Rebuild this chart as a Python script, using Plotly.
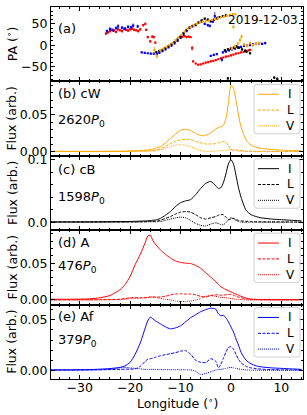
import plotly.graph_objects as go
from plotly.subplots import make_subplots

# ---------------- Panel (a): position angle ----------------
red_lon = [-24.8,-24.4,-24.0,-23.6,-23.2,-22.8,-22.4,-22.0,-21.6,-21.2,-20.8,-20.4,-20.0,-19.6,-19.2,-18.8,-18.4,-18.0,
           -17.4,-17.0,-16.8,-16.5,-16.0,-15.6,-15.3,-15.0,
           -10.4,-10.0,-9.6,-9.2,-8.8,-8.4,-8.0,-7.7,
           -7.5,-7.0,-6.5,-6.0,-5.5,-5.0,-4.5,-4.0,-3.5,-3.0,-2.5,-2.0,-1.5,-1.0,-0.5,0.0,0.5,1.0,1.5,2.0,2.5,3.0,3.5,3.8]
red_pa = [27,30,33,36,34,31,37,35,33,38,36,34,37,39,36,35,33,37,
          47,50,36,19,9,20,19,6,
          17,19,20,21,19,20,19,-7,
          -38,-43,-46,-45,-43,-41,-40,-38,-37,-35,-33,-31,-29,-27,-26,-24,-22,-20,-19,-17,-16,-14,-12,-11]
red_err = [3,3,3,3,3,3,3,3,3,3,3,3,3,3,3,3,3,3,
           3,3,3,3,3,3,3,3,
           2,2,2,2,2,2,2,6,
           2,2,2,2,2,2,2,2,2,2,2,2,2,2,2,2,2,2,2,2,2,2,2,2]

blue_lon = [-24.6,-24.0,-23.4,-22.8,-22.4,-21.6,-21.0,-20.4,-19.8,-19.4,-18.5,
            -17.7,-17.1,-16.5,-15.9,-15.3,-14.7,
            -14.2,-13.6,-13.0,-12.4,-11.8,-11.2,-10.6,-10.0,-9.4,-8.8,-8.2,-7.6,-7.0,-6.4,-5.8,-5.2,-4.6,-4.2,-3.6,-3.2,-2.6,
            -4.0,-3.4,-2.8,-1.8,-1.6,-1.0,-0.4,0.2,0.8,1.4,2.0,2.6,3.2,3.8,4.4,5.0,5.6,6.2,6.8]
blue_pa = [33,38,35,40,44,41,39,43,42,46,44,
           -17,-18,-19,-20,-20,-21,
           -18,-14,-10,-5,-1,4,10,17,25,33,40,44,47,53,56,50,47,45,55,68,64,
           -25,-23,-21,-34,-17,-15,-12,-10,-8,-6,-4,-2,-1,0,2,3,4,3,5]
blue_err = [4,4,4,4,5,4,4,4,4,5,4,
            2,2,2,2,2,2,
            2,2,2,2,2,2,2,2,2,2,2,2,2,3,3,3,3,3,3,10,3,
            2,2,2,5,2,2,2,2,2,2,2,2,2,2,3,3,3,3,3]

black_lon = [-14.8,-14.2,-13.6,-13.0,-12.4,-11.8,-11.2,-10.6,-10.0,-9.4,-8.8,-8.2,-7.6,-7.0,-6.4,-5.8,-5.2,-4.6,-4.0,-3.4,-2.8,-2.2,-1.6,-1.0,
             -1.2,-0.6,0.0,0.6,1.1,1.6,2.2,2.8,3.1,3.8,
             -0.6,8.6,9.2]
black_pa = [-16,-14,-11,-7,-3,2,7,13,20,28,36,42,45,48,53,58,62,60,56,60,63,66,68,70,
            -12,-10,-8,-6,-3,-6,-10,-13,-15,-19,
            -78,-76,-79]
black_err = [2,2,2,2,2,2,2,2,2,2,2,2,2,2,2,2,2,2,2,2,2,2,2,2,
             3,3,3,3,3,3,3,3,3,3,
             3,3,3]

orange_lon = [-15.2,-14.7,-14.0,-13.4,-12.8,-12.2,-11.6,-11.0,-10.4,-9.8,-9.2,-8.6,-8.0,-7.4,-6.8,-6.2,-5.6,-5.0,-4.4,-3.8,-3.2,-2.6,-2.0,-1.4,-0.8,-0.2,0.4,0.9,
              0.5,
              0.2,0.8,1.4,1.8,2.1,2.6,3.2,3.8,4.4,5.0,5.6]
orange_pa = [-11,-26,-12,-8,-4,0,5,11,17,24,32,38,42,46,50,53,55,56,57,59,61,63,65,67,69,71,73,72,
             43,
             -8,-3,4,12,20,2,-2,5,0,3,5]
orange_err = [8,6,2,2,2,2,2,2,2,2,2,2,2,2,2,2,2,2,2,2,2,2,2,2,2,2,2,2,
              5,
              4,4,4,5,5,4,4,4,4,4,4]

# ---------------- Flux profiles (b)-(e) ----------------
lon_grid = [-36,-32,-28,-26,-24,-22,-21,-20,-19,-18,-17,-16.5,-16,-15.5,-15,-14,-13,-12,-11,-10,-9,-8,-7,-6,-5,-4,-3,
            -2.5,-2,-1.5,-1,-0.5,0,0.5,1,1.5,2,3,4,5,6,8,10,12,14]

cW_I = [0.0005,0.0005,0.0005,0.0005,0.0006,0.0007,0.0008,0.001,0.0012,0.0015,0.002,0.0025,0.003,0.0035,0.0045,0.007,0.012,0.018,0.024,0.029,0.0305,0.029,0.025,0.022,0.022,0.026,0.031,
        0.033,0.034,0.036,0.045,0.066,0.0905,0.086,0.07,0.05,0.034,0.016,0.009,0.006,0.0045,0.003,0.0022,0.0015,0.001]
cW_L = [0.0002,0.0002,0.0002,0.0002,0.0003,0.0003,0.0004,0.0005,0.0006,0.0008,0.001,0.0012,0.0014,0.0017,0.002,0.004,0.007,0.011,0.014,0.016,0.017,0.0165,0.014,0.012,0.0105,0.0105,0.011,
        0.012,0.013,0.014,0.013,0.008,0.003,0.002,0.0025,0.002,0.0015,0.001,0.0008,0.0006,0.0005,0.0004,0.0003,0.0003,0.0002]
cW_V = [0.0001,0.0001,0.0001,0.0001,0.0001,0.0002,0.0002,0.0003,0.0003,0.0004,0.0005,0.0006,0.0007,0.0008,0.001,0.0025,0.0045,0.007,0.0088,0.0095,0.009,0.007,0.004,0.0015,0.0005,0.0005,0.001,
        0.0011,0.0012,0.0014,0.0015,0.002,0.003,0.0025,0.0015,0.001,0.0005,0.0003,0.0002,0.0001,0.0001,0.0001,0.0001,0.0001,0.0001]

cB_I = [0.0005,0.0005,0.0006,0.0007,0.0008,0.001,0.001,0.0012,0.0014,0.0017,0.002,0.0022,0.0025,0.003,0.0035,0.006,0.011,0.017,0.025,0.031,0.034,0.036,0.044,0.054,0.062,0.065,0.058,
        0.054,0.055,0.063,0.077,0.093,0.1,0.093,0.075,0.055,0.04,0.019,0.012,0.009,0.007,0.005,0.004,0.003,0.002]
cB_L = [0.0002,0.0002,0.0002,0.0003,0.0003,0.0004,0.0004,0.0005,0.0006,0.0007,0.0009,0.001,0.0012,0.0013,0.0015,0.003,0.006,0.009,0.013,0.016,0.017,0.016,0.012,0.007,0.005,0.007,0.009,
        0.011,0.012,0.012,0.008,0.004,0.005,0.006,0.004,0.003,0.002,0.0015,0.001,0.0008,0.0006,0.0005,0.0004,0.0003,0.0002]
cB_V = [0.0,0.0,0.0,0.0,0.0001,0.0001,0.0001,0.0002,0.0002,0.0003,0.0004,0.0005,0.0006,0.0007,0.0008,0.001,0.003,0.005,0.007,0.008,0.007,0.003,-0.002,-0.005,-0.006,-0.003,-0.001,
        -0.002,-0.004,-0.004,-0.001,0.004,0.007,0.006,0.003,0.001,0.0,0.0,0.0,0.0,0.0,0.0,0.0,0.0,0.0]

A_I = [0.001,0.001,0.0015,0.003,0.006,0.014,0.021,0.032,0.048,0.062,0.078,0.087,0.088,0.081,0.076,0.068,0.062,0.057,0.053,0.051,0.050,0.0495,0.047,0.043,0.037,0.031,0.025,
       0.021,0.018,0.016,0.014,0.0125,0.011,0.0095,0.008,0.0065,0.005,0.0025,0.0012,0.0008,0.0006,0.0005,0.0005,0.0005,0.0005]
A_L = [0.0002,0.0002,0.0003,0.0004,0.0005,0.001,0.002,0.003,0.0035,0.003,0.003,0.0035,0.004,0.004,0.004,0.004,0.005,0.007,0.008,0.0085,0.008,0.008,0.007,0.005,0.004,0.006,0.007,
       0.007,0.0065,0.0065,0.007,0.0075,0.0075,0.0065,0.005,0.004,0.003,0.0015,0.0008,0.0005,0.0004,0.0003,0.0002,0.0002,0.0002]
A_V = [0.0001,0.0001,0.0002,0.0003,0.0004,0.0005,0.001,0.0015,0.002,0.0025,0.003,0.0035,0.004,0.004,0.0035,0.002,0.001,0.0,-0.0015,-0.002,-0.002,-0.0015,0.0,0.002,0.005,0.006,0.005,
       0.004,0.0035,0.0032,0.003,0.0025,0.002,0.0015,0.001,0.0008,0.0005,0.0,0.0,0.0,0.0,0.0,0.0,0.0,0.0]

Af_I = [0.0005,0.0005,0.0008,0.0012,0.0018,0.003,0.0045,0.008,0.016,0.027,0.042,0.049,0.0525,0.051,0.049,0.046,0.043,0.041,0.042,0.044,0.048,0.052,0.055,0.058,0.060,0.0615,0.0605,
        0.056,0.054,0.0545,0.052,0.048,0.043,0.038,0.031,0.025,0.018,0.01,0.0065,0.0045,0.0035,0.0025,0.002,0.0015,0.001]
Af_L = [0.0003,0.0004,0.0005,0.0006,0.0008,0.001,0.0012,0.0013,0.0015,0.004,0.009,0.011,0.0115,0.012,0.013,0.0145,0.0155,0.0165,0.0175,0.019,0.0195,0.016,0.01,0.008,0.0078,0.0115,0.009,
        0.0025,0.006,0.012,0.018,0.0225,0.0235,0.021,0.016,0.011,0.0075,0.004,0.0025,0.0018,0.0012,0.0008,0.0006,0.0005,0.0004]
Af_V = [0.0002,0.0003,0.0005,0.0007,0.001,0.0025,0.003,0.0025,0.002,0.0015,0.001,0.001,0.001,0.001,0.001,0.0008,0.0008,0.0007,0.0007,0.0006,0.0006,0.0005,-0.001,-0.004,-0.003,-0.0015,0.0005,
        0.0008,0.001,0.0015,0.002,0.0025,0.003,0.0025,0.002,0.0015,0.001,0.0005,0.0003,0.0002,0.0001,0.0001,0.0001,0.0001,0.0001]

stokes_names = ["I", "L", "V"]
panels = [
    ("(b) cW", "2620", "orange", cW_I, cW_L, cW_V),
    ("(c) cB", "1598", "black", cB_I, cB_L, cB_V),
    ("(d) A", "476", "red", A_I, A_L, A_V),
    ("(e) Af", "379", "blue", Af_I, Af_L, Af_V),
]

FONT = "DejaVu Sans"
W, H = 307, 415
ML, MR, MT, MB = 51, 4, 3, 36
PW = W - ML - MR
PH = H - MT - MB

fig = make_subplots(rows=5, cols=1, shared_xaxes=True, vertical_spacing=0)

def px2py(ypx):
    return (H - MB - ypx) / PH

def px2px(xpx):
    return (xpx - ML) / PW

# Panel a
for lon, pa, err, col in [(red_lon, red_pa, red_err, "red"), (blue_lon, blue_pa, blue_err, "blue"),
                          (black_lon, black_pa, black_err, "black"), (orange_lon, orange_pa, orange_err, "orange")]:
    fig.add_trace(go.Scatter(x=lon, y=pa, mode="markers",
                             marker=dict(symbol="square", size=2.2, color=col, line=dict(width=0)),
                             error_y=dict(type="data", array=err, thickness=0.8, width=0, color=col),
                             showlegend=False), row=1, col=1)

dashes = ["solid", "3px,1.5px", "1px,1px"]
for i, (lab, pnum, col, I, L, V) in enumerate(panels):
    row = i + 2
    for name, ys, d in zip(stokes_names, [I, L, V], dashes):
        fig.add_trace(go.Scatter(x=lon_grid, y=ys, mode="lines", name=name,
                                 line=dict(color=col, width=1, dash=d, shape="spline", smoothing=0.6),
                                 showlegend=False), row=row, col=1)

yranges = [[-85, 89.5], [-0.0056, 0.0957], [-0.0128, 0.106], [-0.0063, 0.0948], [-0.0085, 0.065]]
ydt = [50, 0.05, 0.1, 0.05, 0.05]
ymin = [10, 0.01, 0.02, 0.01, 0.01]
yfmt = ["d", ".2f", ".1f", ".2f", ".2f"]

for r in range(5):
    top = MT + r * PH / 5
    bot = MT + (r + 1) * PH / 5
    dom = [px2py(bot), px2py(top)]
    yk = "yaxis" if r == 0 else f"yaxis{r+1}"
    xk = "xaxis" if r == 0 else f"xaxis{r+1}"
    fig.layout[yk].update(domain=dom, range=yranges[r], dtick=ydt[r], tick0=0, tickformat=yfmt[r],
                          ticks="inside", ticklen=4, tickwidth=0.8, tickcolor="black",
                          showline=True, linecolor="black", linewidth=1, mirror="allticks",
                          showgrid=False, zeroline=False,
                          minor=dict(ticks="inside", dtick=ymin[r], ticklen=2, tickwidth=0.6, tickcolor="black"),
                          tickfont=dict(family=FONT, size=12.5, color="black"))
    fig.layout[xk].update(range=[-35.7, 14.3], dtick=10, tick0=0,
                          ticks="inside", ticklen=4, tickwidth=0.8, tickcolor="black",
                          showline=True, linecolor="black", linewidth=1, mirror="allticks",
                          showgrid=False, zeroline=False, showticklabels=(r == 4),
                          ticklabelstandoff=-3,
                          minor=dict(ticks="inside", dtick=2, ticklen=2, tickwidth=0.6, tickcolor="black"),
                          tickfont=dict(family=FONT, size=12.5, color="black"))

annots = []
shapes = []
def txt(x, y, s, size=13, xanchor="left", angle=0):
    annots.append(dict(x=x, y=y, xref="paper", yref="paper", text=s, showarrow=False,
                       xanchor=xanchor, yanchor="middle", textangle=angle,
                       font=dict(family=FONT, size=size, color="black")))

txt(px2px(56), px2py(25), "(a)")
txt(px2px(300), px2py(16), "2019-12-03", size=12, xanchor="right")
txt(px2px(12), px2py(MT + PH / 10), "PA (<sup>∘</sup>)", size=12.5, xanchor="center", angle=-90)

def rounded_box(x0, y0, x1, y1, rad):
    # pixel coords -> paper path with rounded corners
    def P(x, y):
        return f"{px2px(x):.5f},{px2py(y):.5f}"
    return (f"M {P(x0+rad, y0)} L {P(x1-rad, y0)} Q {P(x1, y0)} {P(x1, y0+rad)} "
            f"L {P(x1, y1-rad)} Q {P(x1, y1)} {P(x1-rad, y1)} L {P(x0+rad, y1)} "
            f"Q {P(x0, y1)} {P(x0, y1-rad)} L {P(x0, y0+rad)} Q {P(x0, y0)} {P(x0+rad, y0)} Z")

lab_y = [(90, 118), (167, 196), (241, 265), (316, 340)]
for i, (lab, pnum, col, I, L, V) in enumerate(panels):
    txt(px2px(56), px2py(lab_y[i][0]), lab)
    txt(px2px(56), px2py(lab_y[i][1]), f"{pnum}<i>P</i><sub>0</sub>")
    cy = MT + (i + 1.5) * PH / 5
    txt(px2px(12), px2py(cy), "Flux (arb.)", size=12.5, xanchor="center", angle=-90)
    top = MT + (i + 1) * PH / 5
    # legend box in the matplotlib style
    shapes.append(dict(type="path", xref="paper", yref="paper",
                       path=rounded_box(254, top + 3, 300, top + 53, 3),
                       line=dict(color="#d0d0d0", width=1), fillcolor="rgba(255,255,255,0.8)", layer="above"))
    for k, (name, d) in enumerate(zip(stokes_names, dashes)):
        ry = top + 13 + 16 * k
        shapes.append(dict(type="line", xref="paper", yref="paper",
                           x0=px2px(258), x1=px2px(279), y0=px2py(ry), y1=px2py(ry),
                           line=dict(color=col, width=1, dash=d), layer="above"))
        annots.append(dict(x=px2px(290), y=px2py(ry), xref="paper", yref="paper", text=name,
                           showarrow=False, xanchor="center", yanchor="middle",
                           font=dict(family=FONT, size=12, color="black")))

txt(0.5, px2py(403), "Longitude (<sup>∘</sup>)", size=12.5, xanchor="center")

fig.update_layout(width=W, height=H, margin=dict(l=ML, r=MR, t=MT, b=MB),
                  paper_bgcolor="white", plot_bgcolor="white", annotations=annots, shapes=shapes,
                  showlegend=False, font=dict(family=FONT, size=12, color="black"))

fig.write_html("out.html", config={"displayModeBar": False},
               post_script="document.body.style.margin='0';document.body.style.padding='0';document.documentElement.style.overflow='hidden';")
